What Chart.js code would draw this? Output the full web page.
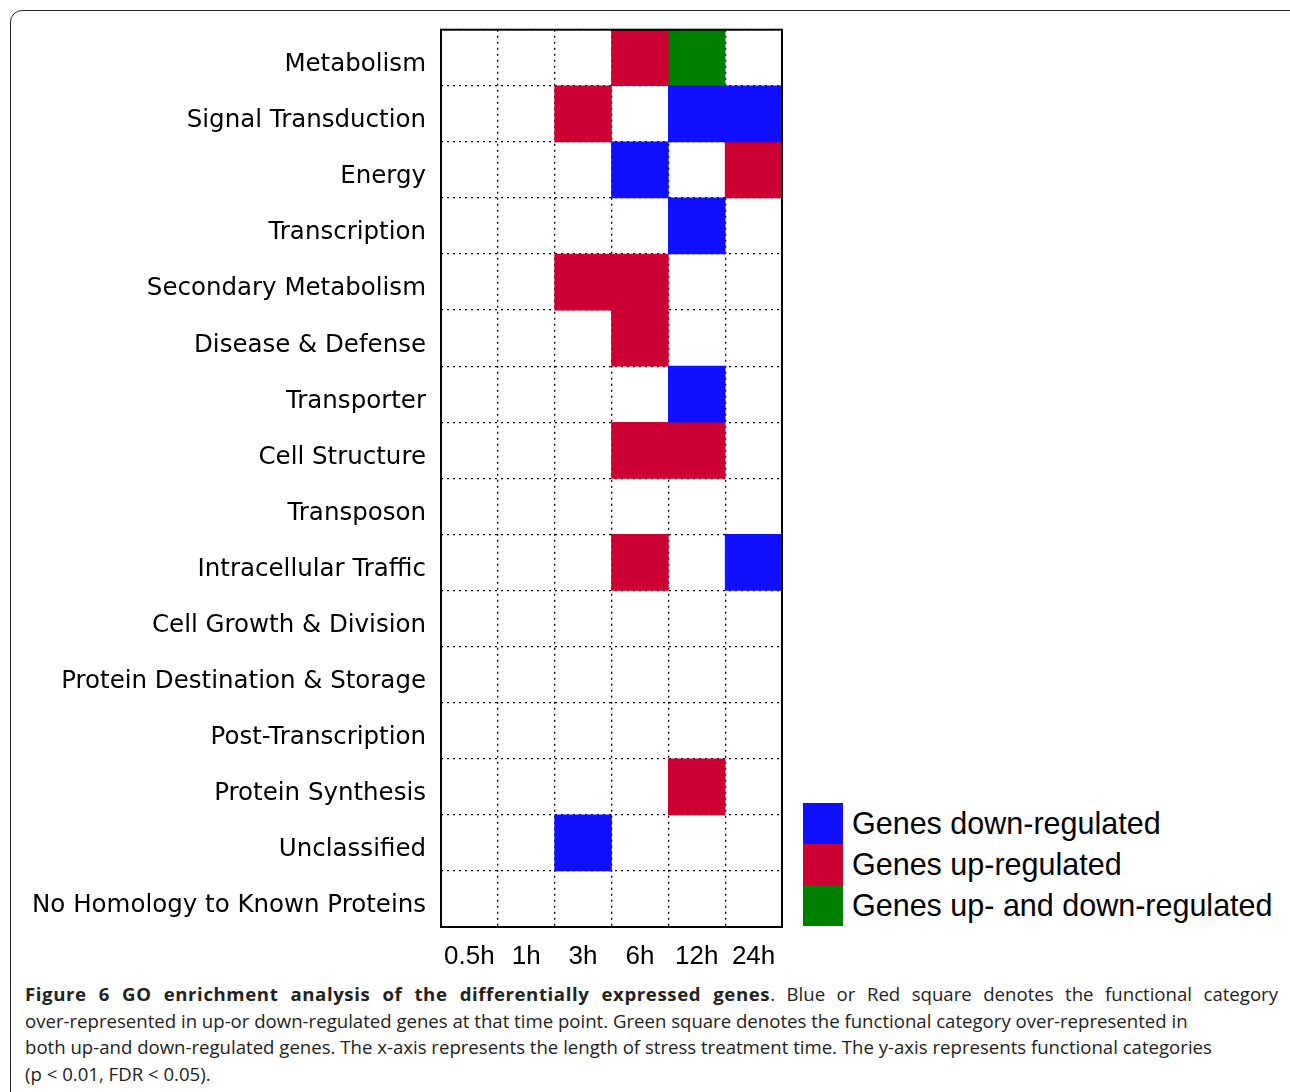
<!DOCTYPE html>
<html><head><meta charset="utf-8">
<script src="https://cdn.jsdelivr.net/npm/chart.js@4"></script>
<style>
body{margin:0;background:#fff;width:1290px;height:1092px;position:relative;overflow:hidden;font-family:"DejaVu Sans",sans-serif}
#frame{position:absolute;left:10px;top:10px;width:1290px;height:1100px;border:1.5px solid #222;border-radius:12px}
#wrap{position:absolute;left:0;top:0;width:800px;height:975px}
.lg{position:absolute;left:803px;width:40px;height:41px}
.lt{position:absolute;left:852px;font-size:30.5px;font-family:"Liberation Sans",sans-serif;color:#000}
#cap{position:absolute;left:25px;top:981px;width:1253px;font-family:"Open Sans",sans-serif;font-size:18.6px;line-height:26.5px;color:#222}
#cap div{white-space:nowrap}
#cap .j{text-align:justify;text-align-last:justify;white-space:normal}
</style></head><body>
<div id="frame"></div>
<div id="wrap"><canvas id="c"></canvas></div>
<div class="lg" style="top:803px;background:#1010ff"></div>
<div class="lg" style="top:844px;background:#cc0033"></div>
<div class="lg" style="top:885px;background:#008000"></div>
<div class="lt" style="top:806px">Genes down-regulated</div>
<div class="lt" style="top:847px">Genes up-regulated</div>
<div class="lt" style="top:888px">Genes up- and down-regulated</div>
<div id="cap">
<div class="j"><b style="letter-spacing:0.6px">Figure 6 GO enrichment analysis of the differentially expressed genes</b>. Blue or Red square denotes the functional category</div>
<div>over-represented in up-or down-regulated genes at that time point. Green square denotes the functional category over-represented in</div>
<div>both up-and down-regulated genes. The x-axis represents the length of stress treatment time. The y-axis represents functional categories</div>
<div>(p &lt; 0.01, FDR &lt; 0.05).</div>
</div>
<script>
const categories=["Metabolism","Signal Transduction","Energy","Transcription","Secondary Metabolism","Disease & Defense","Transporter","Cell Structure","Transposon","Intracellular Traffic","Cell Growth & Division","Protein Destination & Storage","Post-Transcription","Protein Synthesis","Unclassified","No Homology to Known Proteins"];
const timePoints=["0.5h","1h","3h","6h","12h","24h"];
// [categoryIndex, timeIndex]
const downCells=[[1,4],[1,5],[2,3],[3,4],[6,4],[9,5],[14,2]];
const upCells=[[0,3],[1,2],[2,5],[4,2],[4,3],[5,3],[7,3],[7,4],[9,3],[13,4]];
const bothCells=[[0,4]];
const colors={down:"#1010ff",up:"#cc0033",both:"#008000"};
const datasets=[];
function add(cells,col){cells.forEach(([r,t])=>{const d=categories.map(()=>null);d[r]=[t,t+1];datasets.push({data:d,backgroundColor:col,borderWidth:0,barPercentage:1,categoryPercentage:1,grouped:false});});}
add(downCells,colors.down);add(upCells,colors.up);add(bothCells,colors.both);
const frame={id:'frame',afterDatasetsDraw(ch){const a=ch.chartArea,c=ch.ctx;c.save();c.strokeStyle='#000';c.lineWidth=2;c.strokeRect(a.left,a.top,a.right-a.left,a.bottom-a.top);c.restore();}};
new Chart(document.getElementById('c'),{type:'bar',data:{labels:categories,datasets},
plugins:[frame],
options:{indexAxis:'y',responsive:true,maintainAspectRatio:false,animation:false,
layout:{padding:{top:27,right:18,left:0,bottom:0}},
plugins:{legend:{display:false},tooltip:{enabled:false}},
scales:{
x:{type:'linear',min:0,max:6,position:'bottom',ticks:{display:false,stepSize:1},border:{display:false,dash:[2,4]},grid:{color:'#000',lineWidth:1.3,drawTicks:false},afterFit(s){s.height=0;}},
x2:{type:'category',labels:timePoints,position:'bottom',offset:true,grid:{display:false,drawTicks:false},border:{display:false},ticks:{color:'#000',font:{family:'Liberation Sans',size:26},padding:14},afterFit(s){s.height=48;}},
y:{type:'category',offset:true,grid:{offset:true,color:'#000',lineWidth:1.3,drawTicks:false},border:{display:false,dash:[2,4]},ticks:{color:'#000',font:{family:'DejaVu Sans',size:24.5},padding:15,labelOffset:7},afterFit(s){s.width=441;}}
}}});
</script>
<script>
const ch=Chart.getChart('c');
ch.options.scales.x.grid.borderDash=[2,4];
ch.options.scales.y.grid.borderDash=[2,4];
ch.update();
</script>
</body></html>
